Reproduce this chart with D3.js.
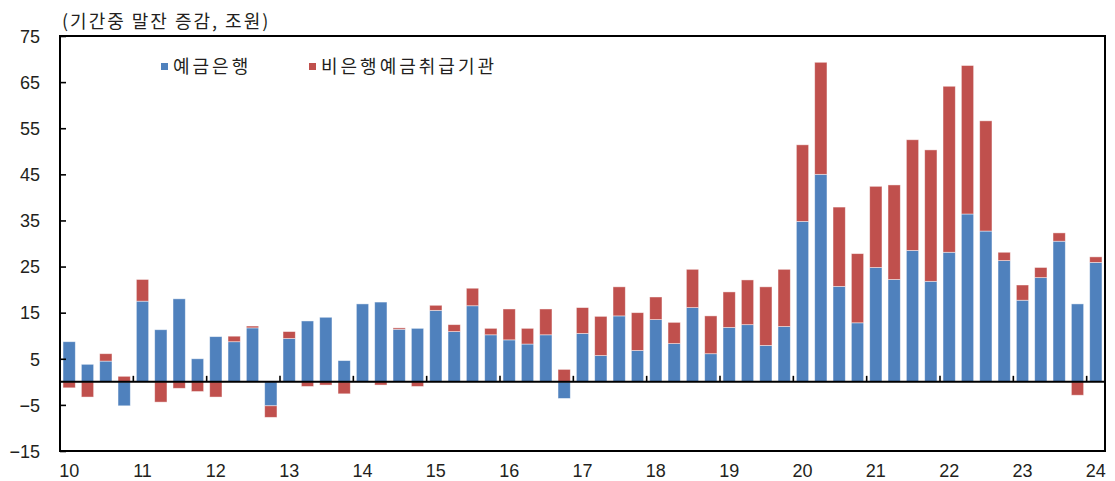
<!DOCTYPE html>
<html>
<head>
<meta charset="utf-8">
<script src="https://cdn.jsdelivr.net/npm/d3@7"></script>
<style>
  html, body { margin: 0; padding: 0; background: #fff; }
  svg { display: block; }
</style>
</head>
<body>
<svg id="chart" width="1115" height="481"></svg>
<script>
// ---- data ----
const categories = [
  "10Q1","10Q2","10Q3","10Q4",
  "11Q1","11Q2","11Q3","11Q4",
  "12Q1","12Q2","12Q3","12Q4",
  "13Q1","13Q2","13Q3","13Q4",
  "14Q1","14Q2","14Q3","14Q4",
  "15Q1","15Q2","15Q3","15Q4",
  "16Q1","16Q2","16Q3","16Q4",
  "17Q1","17Q2","17Q3","17Q4",
  "18Q1","18Q2","18Q3","18Q4",
  "19Q1","19Q2","19Q3","19Q4",
  "20Q1","20Q2","20Q3","20Q4",
  "21Q1","21Q2","21Q3","21Q4",
  "22Q1","22Q2","22Q3","22Q4",
  "23Q1","23Q2","23Q3","23Q4",
  "24Q1"
];
const banks = [
  8.7, 3.8, 4.5, -5.2,
  17.5, 11.3, 18.0, 5.0,
  9.8, 8.7, 11.7, -5.2,
  9.4, 13.2, 14.0, 4.6,
  16.9, 17.3, 11.4, 11.6,
  15.5, 10.9, 16.5, 10.2,
  9.1, 8.2, 10.2, -3.6,
  10.5, 5.7, 14.3, 6.8,
  13.5, 8.3, 16.1, 6.1,
  11.8, 12.4, 7.9, 12.0,
  34.8, 45.0, 20.7, 12.8,
  24.8, 22.2, 28.5, 21.8,
  28.1, 36.4, 32.7, 26.3,
  17.7, 22.6, 30.5, 16.9,
  25.9
];
const nonBanks = [
  -1.3, -3.3, 1.6, 1.2,
  4.7, -4.4, -1.4, -2.1,
  -3.3, 1.2, 0.4, -2.5,
  1.5, -1.0, -0.7, -2.6,
  0.0, -0.7, 0.3, -1.0,
  1.1, 1.5, 3.8, 1.4,
  6.7, 3.4, 5.6, 2.7,
  5.6, 8.5, 6.3, 8.2,
  4.9, 4.6, 8.3, 8.2,
  7.7, 9.7, 12.7, 12.4,
  16.6, 24.3, 17.2, 15.0,
  17.6, 20.5, 24.0, 28.5,
  36.0, 32.2, 23.9, 1.8,
  3.3, 2.2, 1.8, -2.9,
  1.2
];
const yearLabels = ["10","11","12","13","14","15","16","17","18","19","20","21","22","23","24"];
const yTicks = [75, 65, 55, 45, 35, 25, 15, 5, -5, -15];
const seriesNames = ["예금은행", "비은행예금취급기관"];
const seriesColors = ["#4F81BD", "#C0504D"];
const unitLabel = "(기간중 말잔 증감, 조원)";

// ---- layout ----
const svg = d3.select("#chart");
const L = 60, R = 1105, T = 36, B = 451;
const numFont = "'Liberation Sans', Arial, Helvetica, sans-serif";
const krFont = "'Noto Sans CJK KR', 'Noto Sans', sans-serif";
const textColor = "#231F20";

const x = d3.scaleBand().domain(categories).range([L, R])
  .paddingInner(0.33).paddingOuter(0.165);
const y = d3.scaleLinear().domain([-15, 75]).range([B, T]);

const rows = categories.map((c, i) => ({ cat: c, banks: banks[i], nonBanks: nonBanks[i] }));
const stack = d3.stack().keys(["banks", "nonBanks"]).offset(d3.stackOffsetDiverging);
const stacked = stack(rows);

// bars
svg.append("g").selectAll("g").data(stacked).join("g")
  .attr("fill", (d, i) => seriesColors[i])
  .selectAll("rect").data(d => d).join("rect")
  .attr("x", d => x(d.data.cat))
  .attr("width", x.bandwidth())
  .attr("y", d => y(Math.max(d[0], d[1])))
  .attr("height", d => Math.abs(y(d[0]) - y(d[1])))
  .attr("stroke", "rgba(255,255,255,0.55)")
  .attr("stroke-width", 0.8);

// zero line
svg.append("line")
  .attr("x1", L).attr("x2", R)
  .attr("y1", y(0)).attr("y2", y(0))
  .attr("stroke", "#000").attr("stroke-width", 2);

// year boundary ticks on zero line
const step = x.step();
const boundaries = yearLabels.slice(1).map((yl) => yl + "Q1");
svg.append("g").selectAll("line").data(boundaries).join("line")
  .attr("x1", d => x(d) - (step - x.bandwidth()) / 2)
  .attr("x2", d => x(d) - (step - x.bandwidth()) / 2)
  .attr("y1", y(0)).attr("y2", y(0) - 6)
  .attr("stroke", "#000").attr("stroke-width", 1.6);

// left y axis (ticks inward, labels outside)
const yAxis = d3.axisLeft(y).tickValues(yTicks).tickSize(0).tickPadding(0)
  .tickFormat(d => (d < 0 ? "\u2212" + Math.abs(d) : String(d)));
const yg = svg.append("g").attr("transform", `translate(${L},0)`).call(yAxis);
yg.select(".domain").remove();
yg.selectAll("text")
  .attr("x", -20).attr("dy", "0.35em")
  .attr("font-family", numFont).attr("font-size", 18)
  .attr("fill", textColor).attr("text-anchor", "end");
yg.selectAll(".tick").append("line")
  .attr("x1", 0).attr("x2", 6).attr("y1", 0).attr("y2", 0)
  .attr("stroke", "#000").attr("stroke-width", 1.6);

// x labels under Q1 bars
const xAxis = d3.axisBottom(x).tickValues(yearLabels.map(yl => yl + "Q1"))
  .tickSize(0).tickPadding(0).tickFormat(d => d.slice(0, 2));
const xg = svg.append("g").attr("transform", `translate(0,${B})`).call(xAxis);
xg.select(".domain").remove();
xg.selectAll("text")
  .attr("y", 26).attr("dy", 0)
  .attr("font-family", numFont).attr("font-size", 18)
  .attr("fill", textColor);

// frame
svg.append("rect")
  .attr("x", L).attr("y", T).attr("width", R - L).attr("height", B - T)
  .attr("fill", "none").attr("stroke", "#000").attr("stroke-width", 2);

// unit label
svg.append("text")
  .attr("x", 62).attr("y", 28)
  .attr("font-family", krFont).attr("font-size", 18)
  .attr("letter-spacing", 2)
  .attr("fill", textColor)
  .text(unitLabel);

// legend
const legendX = [161, 309];
const lg = svg.append("g");
seriesNames.forEach((name, i) => {
  lg.append("rect")
    .attr("x", legendX[i]).attr("y", 63)
    .attr("width", 7).attr("height", 7)
    .attr("fill", seriesColors[i]);
  lg.append("text")
    .attr("x", legendX[i] + 12).attr("y", 67)
    .attr("dy", "0.35em")
    .attr("font-family", krFont).attr("font-size", 18)
    .attr("letter-spacing", 3)
    .attr("fill", textColor)
    .text(name);
});
</script>
</body>
</html>
